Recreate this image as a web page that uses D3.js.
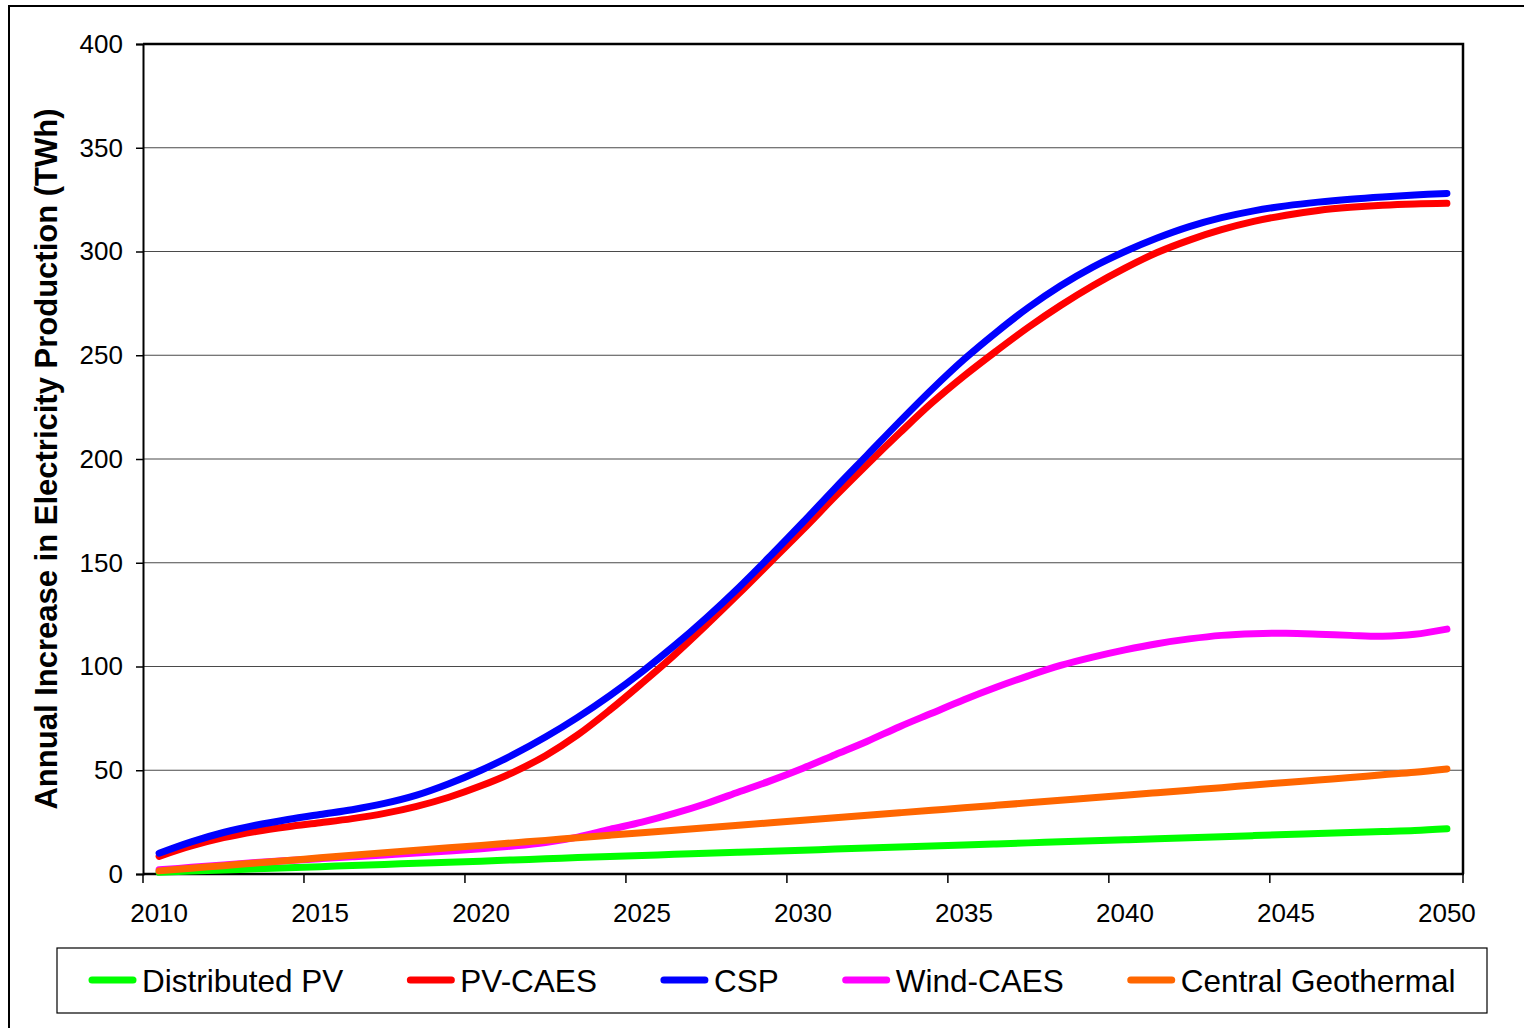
<!DOCTYPE html>
<html>
<head>
<meta charset="utf-8">
<script src="https://cdn.jsdelivr.net/npm/d3@7"></script>
<style>
  body { margin: 0; background: #fff; }
  svg { display: block; font-family: "Liberation Sans", Arial, sans-serif; }
</style>
</head>
<body>
<svg id="chart" width="1524" height="1028"></svg>
<script>
// years on the category axis
var years = d3.range(2010, 2051);
var tickYears = [2010, 2015, 2020, 2025, 2030, 2035, 2040, 2045, 2050];
var yTicks = [0, 50, 100, 150, 200, 250, 300, 350, 400];

var seriesNames = ["Distributed PV", "PV-CAES", "CSP", "Wind-CAES", "Central Geothermal"];
var seriesColors = ["#00ff00", "#ff0000", "#0000ff", "#ff00ff", "#ff6600"];

// TWh, one value per year 2010..2050
var distributedPV = [0.8, 1.4, 1.9, 2.5, 3, 3.5, 4.1, 4.6, 5.2, 5.7, 6.2, 6.8, 7.3, 7.9, 8.4, 8.9,
  9.5, 10, 10.5, 11, 11.5, 12, 12.5, 13, 13.5, 14, 14.5, 15, 15.5, 16, 16.5, 17, 17.5, 18, 18.5,
  19, 19.5, 20, 20.5, 21, 21.8];
var pvCaes = [8.5, 13.5, 17.5, 20.5, 22.8, 24.7, 26.7, 29.2, 32.6, 37, 42.5, 49, 57, 67, 79, 92,
  105.5, 120, 135, 150.5, 166, 182, 197.5, 212.5, 227, 240, 252, 263.5, 274, 283.5, 292, 299.5,
  305.5, 310.5, 314.5, 317.5, 319.8, 321.3, 322.3, 322.9, 323.2];
var csp = [10, 15.5, 20, 23.5, 26.3, 28.7, 31, 34, 38, 43.5, 50, 57.5, 66, 75.5, 86, 97.5, 110,
  123.5, 138, 153.5, 169.5, 186, 202, 218, 233.5, 248, 261, 273, 283.5, 292.5, 300, 306.5, 312,
  316.3, 319.6, 322, 323.8, 325.2, 326.3, 327.2, 328];
var windCaes = [2, 3.2, 4.4, 5.5, 6.5, 7.4, 8.3, 9.2, 10.1, 11.1, 12.2, 13.5, 15.2, 17.8, 21.5, 25,
  29.2, 34, 39.5, 45, 51, 57.5, 64, 71, 77.5, 84, 90, 95.5, 100.5, 104.5, 108, 111, 113.3, 115,
  115.8, 116, 115.6, 115, 114.6, 115.5, 118];
var geothermal = [1.5, 2.8, 4, 5.3, 6.5, 7.8, 9, 10.2, 11.4, 12.6, 13.8, 15, 16.2, 17.5, 18.7, 19.9,
  21.1, 22.3, 23.5, 24.7, 25.9, 27.1, 28.3, 29.5, 30.7, 31.9, 33.1, 34.3, 35.5, 36.7, 38, 39.2,
  40.4, 41.6, 42.9, 44.1, 45.3, 46.5, 47.8, 49, 50.6];

var seriesValues = [distributedPV, pvCaes, csp, windCaes, geothermal];

var svg = d3.select("#chart");
var plot = { left: 143, right: 1463, top: 44, bottom: 874 };

// outer frame
svg.append("rect")
  .attr("x", 9).attr("y", 6)
  .attr("width", 1530).attr("height", 1040)
  .attr("fill", "none").attr("stroke", "#000").attr("stroke-width", 2);

var x = d3.scaleBand().domain(years).range([plot.left, plot.right]).padding(0);
var y = d3.scaleLinear().domain([0, 400]).range([plot.bottom, plot.top]);
var cx = function(yr) { return x(yr) + x.bandwidth() / 2; };

// gridlines
svg.append("g")
  .selectAll("line")
  .data(yTicks.slice(1, -1))
  .enter()
  .append("line")
  .attr("x1", plot.left).attr("x2", plot.right)
  .attr("y1", function(d) { return y(d); })
  .attr("y2", function(d) { return y(d); })
  .attr("stroke", "#4a4a4a").attr("stroke-width", 1.2);

// y axis
var yAxis = svg.append("g")
  .attr("transform", "translate(" + plot.left + ",0)")
  .call(d3.axisLeft(y).tickValues(yTicks).tickSize(7).tickPadding(13));
yAxis.select(".domain").attr("stroke", "#000").attr("stroke-width", 2);
yAxis.selectAll(".tick line").attr("stroke", "#000").attr("stroke-width", 1.5);
yAxis.selectAll(".tick text")
  .attr("font-size", 26).attr("fill", "#000")
  .attr("font-family", "Liberation Sans, Arial, sans-serif");

// x axis: ticks on category boundaries every 5 years, labels centred on categories
var xg = svg.append("g").attr("transform", "translate(0," + plot.bottom + ")");
xg.append("line")
  .attr("x1", plot.left).attr("x2", plot.right + 1)
  .attr("stroke", "#000").attr("stroke-width", 2.5);
xg.selectAll(".xtick")
  .data(tickYears)
  .enter()
  .append("line")
  .attr("class", "xtick")
  .attr("x1", function(d) { return d === 2050 ? plot.right : x(d); })
  .attr("x2", function(d) { return d === 2050 ? plot.right : x(d); })
  .attr("y1", 0).attr("y2", 9)
  .attr("stroke", "#000").attr("stroke-width", 1.5);
xg.selectAll(".xlabel")
  .data(tickYears)
  .enter()
  .append("text")
  .attr("class", "xlabel")
  .attr("x", function(d) { return cx(d); })
  .attr("y", 48)
  .attr("text-anchor", "middle")
  .attr("font-size", 26)
  .text(function(d) { return d; });

// plot frame top / right
svg.append("path")
  .attr("d", "M" + plot.left + "," + plot.top + "H" + plot.right + "V" + plot.bottom)
  .attr("fill", "none").attr("stroke", "#000").attr("stroke-width", 2.5);

// y title
svg.append("text")
  .attr("transform", "translate(57," + (plot.top + plot.bottom) / 2 + ") rotate(-90)")
  .attr("text-anchor", "middle")
  .attr("font-size", 31)
  .attr("font-weight", "bold")
  .text("Annual Increase in Electricity Production (TWh)");

// series lines
var line = d3.line()
  .x(function(d, i) { return cx(years[i]); })
  .y(function(d) { return y(d); })
  .curve(d3.curveCatmullRom.alpha(0.5));

svg.append("g")
  .selectAll("path")
  .data(seriesValues)
  .enter()
  .append("path")
  .attr("d", line)
  .attr("fill", "none")
  .attr("stroke", function(d, i) { return seriesColors[i]; })
  .attr("stroke-width", 7)
  .attr("stroke-linecap", "round")
  .attr("stroke-linejoin", "round");

// legend
var legend = svg.append("g");
legend.append("rect")
  .attr("x", 57).attr("y", 948)
  .attr("width", 1430).attr("height", 65)
  .attr("fill", "#fff").attr("stroke", "#000").attr("stroke-width", 1.2);

var lx = 92;
seriesNames.forEach(function(name, i) {
  legend.append("line")
    .attr("x1", lx).attr("x2", lx + 41)
    .attr("y1", 980).attr("y2", 980)
    .attr("stroke", seriesColors[i])
    .attr("stroke-width", 7)
    .attr("stroke-linecap", "round");
  var t = legend.append("text")
    .attr("x", lx + 50).attr("y", 992)
    .attr("font-size", 31.5)
    .text(name);
  lx += 50 + t.node().getComputedTextLength() + 67;
});
</script>
</body>
</html>
